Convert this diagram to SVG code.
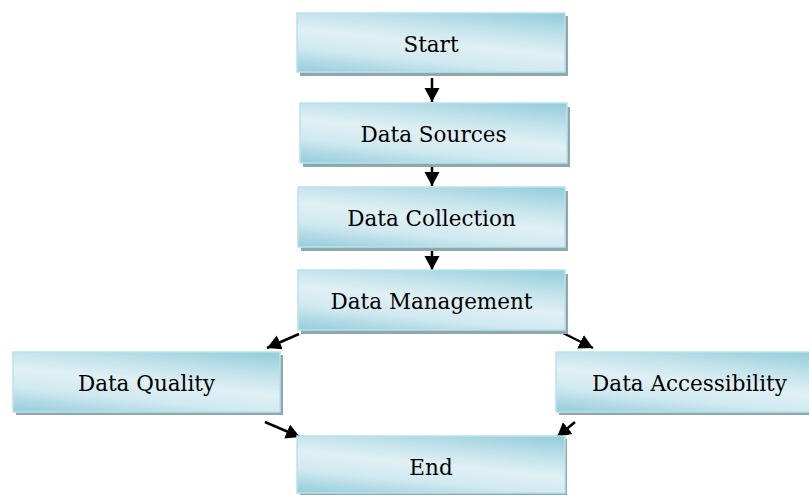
<svg xmlns="http://www.w3.org/2000/svg" width="809" height="495" viewBox="0 0 809 495">
<defs>
<linearGradient id="g" gradientUnits="objectBoundingBox" x1="0" y1="1" x2="1" y2="0" gradientTransform="rotate(-20 0.5 0.5)">
<stop offset="0" stop-color="#8cc9d8"/>
<stop offset="0.3" stop-color="#d0e9f0"/>
<stop offset="0.5" stop-color="#e0f0f4"/>
<stop offset="0.72" stop-color="#bfe1ea"/>
<stop offset="1" stop-color="#8bc9d8"/>
</linearGradient>
<marker id="ah" markerUnits="userSpaceOnUse" markerWidth="16" markerHeight="16" refX="14" refY="7.5" orient="auto">
<path d="M0,0 L14,7.5 L0,15 z" fill="#000"/>
</marker>
</defs>
<style>
.sh{fill:#8fa8b0}
.bx{fill:url(#g);stroke:#b9e2ea;stroke-width:1.5}
.t{font-family:"DejaVu Serif","Liberation Serif",serif;font-size:21.5px;fill:#000;text-anchor:middle}
.c{stroke:#000;stroke-width:2.5;fill:none;marker-end:url(#ah)}
</style>
<g id="connectors">
<line class="c" x1="432" y1="78" x2="432" y2="102"/>
<line class="c" x1="432" y1="166" x2="432" y2="186"/>
<line class="c" x1="432" y1="250" x2="432" y2="270"/>
<line class="c" x1="299" y1="334" x2="267" y2="348"/>
<line class="c" x1="563" y1="333" x2="593" y2="348"/>
<line class="c" x1="265" y1="422" x2="300" y2="437"/>
<line class="c" x1="575" y1="422" x2="557" y2="437"/>
</g>
<g id="start">
<rect class="sh" x="300" y="16" width="268" height="60"/>
<rect class="bx" x="297" y="13" width="268" height="59"/>
<text class="t" x="431" y="52">Start</text>
</g>
<g id="data-sources">
<rect class="sh" x="303" y="107" width="267" height="60"/>
<rect class="bx" x="300" y="103" width="267" height="60"/>
<text class="t" x="433.5" y="142">Data Sources</text>
</g>
<g id="data-collection">
<rect class="sh" x="301" y="191" width="267" height="60"/>
<rect class="bx" x="298" y="187" width="267" height="60"/>
<text class="t" x="431.5" y="226">Data Collection</text>
</g>
<g id="data-management">
<rect class="sh" x="301" y="274" width="267" height="60"/>
<rect class="bx" x="298" y="270" width="267" height="60"/>
<text class="t" x="431.5" y="309">Data Management</text>
</g>
<g id="data-quality">
<rect class="sh" x="16" y="355" width="267" height="60"/>
<rect class="bx" x="13" y="352" width="267" height="60"/>
<text class="t" x="146.5" y="391">Data Quality</text>
</g>
<g id="data-accessibility">
<rect class="sh" x="559" y="355" width="267" height="60"/>
<rect class="bx" x="556" y="352" width="267" height="60"/>
<text class="t" x="689.5" y="391">Data Accessibility</text>
</g>
<g id="end">
<rect class="sh" x="300" y="439" width="267" height="60"/>
<rect class="bx" x="297" y="436" width="268" height="57"/>
<text class="t" x="431" y="475">End</text>
</g>
</svg>
